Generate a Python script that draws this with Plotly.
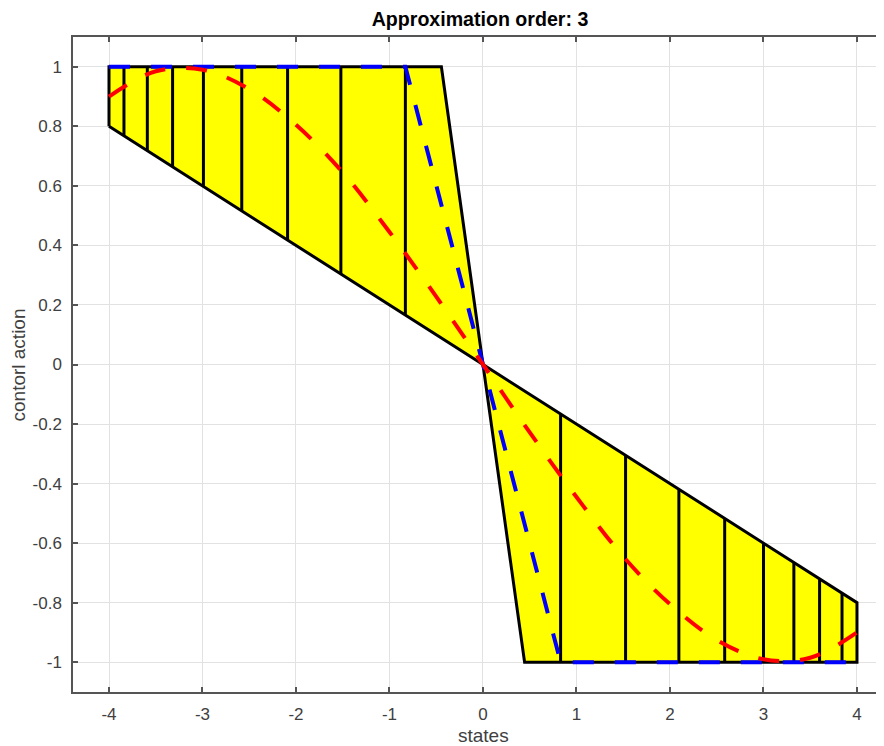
import plotly.graph_objects as go

# ---- data ----
left_poly_x = [-4.0, -4.0, -0.445, 0.0, -4.0]
left_poly_y = [0.8, 1.0, 1.0, 0.0, 0.8]
right_poly_x = [0.0, 0.445, 4.0, 4.0, 0.0]
right_poly_y = [0.0, -1.0, -1.0, -0.8, 0.0]

left_nodes = [-3.84, -3.59, -3.32, -2.99, -2.58, -2.09, -1.52, -0.83]
left_low = [0.768, 0.718, 0.664, 0.598, 0.516, 0.418, 0.304, 0.166]
left_high = [1, 1, 1, 1, 1, 1, 1, 1]
right_nodes = [0.83, 1.525, 2.095, 2.585, 3.0, 3.325, 3.6, 3.84]
right_low = [-1, -1, -1, -1, -1, -1, -1, -1]
right_high = [-0.166, -0.305, -0.419, -0.517, -0.6, -0.665, -0.72, -0.768]

exact_x = [-4.0, -0.83, 0.0, 0.83, 4.0]
exact_y = [1.0, 1.0, 0.0, -1.0, -1.0]

approx_x = [-4.0, -3.5, -3.0, -2.5, -2.0, -1.5, -1.0, -0.5, 0.0,
            0.5, 1.0, 1.5, 2.0, 2.5, 3.0, 3.5, 4.0]
approx_y = [0.90, 0.985, 0.99, 0.925, 0.805, 0.645, 0.445, 0.228, 0.0,
            -0.228, -0.445, -0.645, -0.805, -0.925, -0.99, -0.985, -0.90]

x_ticks = [-4, -3, -2, -1, 0, 1, 2, 3, 4]
y_ticks = [-1, -0.8, -0.6, -0.4, -0.2, 0, 0.2, 0.4, 0.6, 0.8, 1]

title_text = "Approximation order: 3"
x_label = "states"
y_label = "contorl action"

# ---- figure ----
fig = go.Figure()

for px_, py_ in [(left_poly_x, left_poly_y), (right_poly_x, right_poly_y)]:
    fig.add_trace(go.Scatter(x=px_, y=py_, mode="lines", fill="toself",
                             fillcolor="#ffff00",
                             line=dict(color="black", width=3),
                             hoverinfo="skip", showlegend=False))

seg_x, seg_y = [], []
for xs, lo, hi in [(left_nodes, left_low, left_high), (right_nodes, right_low, right_high)]:
    for xv, l, h in zip(xs, lo, hi):
        seg_x += [xv, xv, None]
        seg_y += [l, h, None]
fig.add_trace(go.Scatter(x=seg_x, y=seg_y, mode="lines",
                         line=dict(color="black", width=3),
                         hoverinfo="skip", showlegend=False))

fig.add_trace(go.Scatter(x=exact_x, y=exact_y, mode="lines",
                         line=dict(color="#0000ff", width=4, dash="21px,21px"),
                         showlegend=False))
fig.add_trace(go.Scatter(x=approx_x, y=approx_y, mode="lines",
                         line=dict(color="#ff0000", width=4, dash="21px,21px",
                                   shape="spline", smoothing=1.0),
                         showlegend=False))

axis_font = dict(family="Liberation Sans, Arial, sans-serif", size=17, color="#404040")

fig.update_layout(
    width=876, height=738,
    margin=dict(l=65, r=0, t=29, b=54),
    paper_bgcolor="white", plot_bgcolor="white",
    title=dict(text="<b>" + title_text + "</b>", x=472 / 876, xanchor="center",
               xref="container",
               y=1 - 11 / 738, yanchor="middle", yref="container",
               font=dict(family="Liberation Sans, Arial, sans-serif", size=19.6, color="black")),
    xaxis=dict(range=[-4.385, 4.289], tickvals=x_ticks,
               ticktext=[str(v) for v in x_ticks],
               showgrid=True, gridcolor="#e2e2e2", gridwidth=1,
               zeroline=False, showline=True, linecolor="#555555", linewidth=1.5,
               mirror="ticks", ticks="inside", ticklen=5, tickcolor="#555555",
               tickwidth=1.5, tickfont=axis_font, ticklabelstandoff=6),
    yaxis=dict(range=[-1.1, 1.1], tickvals=y_ticks,
               ticktext=["-1", "-0.8", "-0.6", "-0.4", "-0.2", "0",
                         "0.2", "0.4", "0.6", "0.8", "1"],
               showgrid=True, gridcolor="#e2e2e2", gridwidth=1,
               zeroline=False, showline=True, linecolor="#555555", linewidth=1.5,
               mirror=False, ticks="inside", ticklen=5, tickcolor="#555555",
               tickwidth=1.5, tickfont=axis_font, ticklabelstandoff=6),
    annotations=[
        dict(text=x_label, xref="paper", yref="paper",
             x=(484 - 73) / 811, y=-(735 - 692) / 655,
             xanchor="center", yanchor="middle", showarrow=False,
             font=dict(family="Liberation Sans, Arial, sans-serif", size=19, color="#404040")),
        dict(text=y_label, xref="paper", yref="paper",
             x=-(73 - 18) / 811, y=0.5, textangle=-90,
             xanchor="center", yanchor="middle", showarrow=False,
             font=dict(family="Liberation Sans, Arial, sans-serif", size=19, color="#404040")),
    ],
)

fig.write_html("out.html")
